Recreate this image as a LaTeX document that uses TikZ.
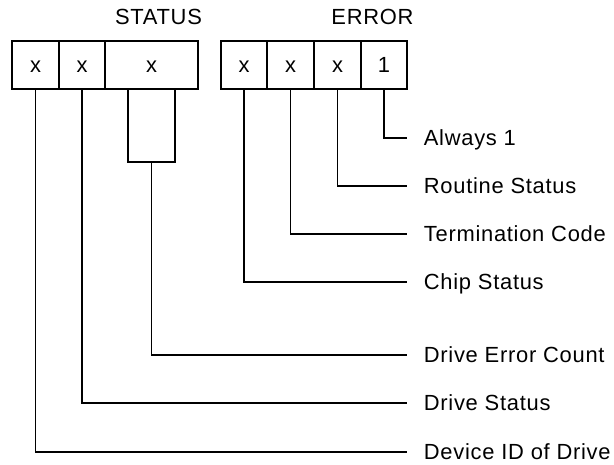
\documentclass[tikz,border=0pt]{standalone}
\usepackage{fontspec}
\setmainfont{Liberation Sans}[LetterSpace=3.3]
\begin{document}
\begin{tikzpicture}[x=1bp,y=-1bp,line width=1.8bp,
  cell/.style={draw,rectangle,minimum height=48bp,inner sep=0pt,text height=16bp,text depth=0pt,font=\fontsize{22}{26}\selectfont},
  lbl/.style={anchor=west,inner xsep=16bp,inner ysep=0pt,text height=15.6bp,text depth=0pt,font=\fontsize{22}{26}\selectfont},
  hdr/.style={anchor=base,inner sep=0pt,font=\fontsize{22}{26}\selectfont},
  wire/.style={draw,line width=1.8bp}]
\useasboundingbox (0,0) rectangle (614,465);
% headers
\node[hdr] (hs) at (158.5,25) {STATUS};
\node[hdr] (he) at (372.5,25) {ERROR};
% status cells
\node[cell,minimum width=47bp] (s1) at (35.5,65) {x};
\node[cell,minimum width=46bp] (s2) at (82,65) {x};
\node[cell,minimum width=93bp] (s3) at (151.5,65) {x};
% error cells
\node[cell,minimum width=46bp] (e1) at (244,65) {x};
\node[cell,minimum width=47bp] (e2) at (290.5,65) {x};
\node[cell,minimum width=47bp] (e3) at (337.5,65) {x};
\node[cell,minimum width=46bp] (e4) at (384,65) {1};
% labels
\node[lbl] (l1) at (407,138) {Always 1};
\node[lbl] (l2) at (407,186) {Routine Status};
\node[lbl] (l3) at (407,234) {Termination Code};
\node[lbl] (l4) at (407,282) {Chip Status};
\node[lbl] (l5) at (407,355) {Drive Error Count};
\node[lbl] (l6) at (407,403) {Drive Status};
\node[lbl] (l7) at (407,452) {Device ID of Drive};
% bracket coordinates
\coordinate (bl) at (128,162);
\coordinate (br) at (175,162);
\coordinate (bm) at (151.5,162);
% connectors
\draw[wire] (e4.south) |- (l1.west);
\draw[wire] (e3.south) |- (l2.west);
\draw[wire] (e2.south) |- (l3.west);
\draw[wire] (e1.south) |- (l4.west);
\draw[wire] (s3.south -| bl) -- (bl) -- (br) -- (s3.south -| br);
\draw[wire] (bm) |- (l5.west);
\draw[wire] (s2.south) |- (l6.west);
\draw[wire] (s1.south) |- (l7.west);
\end{tikzpicture}
\end{document}
